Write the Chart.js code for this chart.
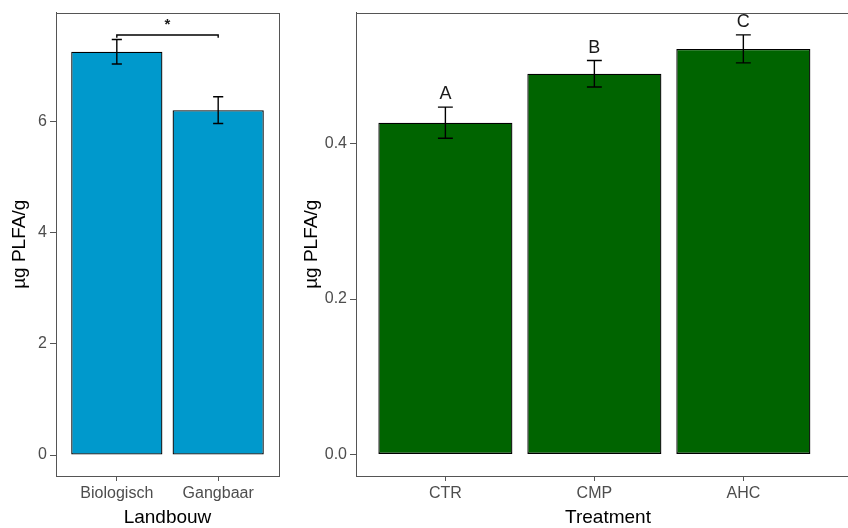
<!DOCTYPE html>
<html>
<head>
<meta charset="utf-8">
<script src="https://cdn.jsdelivr.net/npm/chart.js@4"></script>
<style>
html, body { margin: 0; padding: 0; background: #fff; overflow: hidden; width: 848px; height: 528px; }
#left { position: absolute; left: 0; top: 0; }
#right { position: absolute; left: 290px; top: 0; }
</style>
</head>
<body>
<canvas id="left" width="290" height="528"></canvas>
<canvas id="right" width="570" height="528"></canvas>
<script>
// linker paneel: Landbouw
var landbouw = ['Biologisch', 'Gangbaar'];
var landbouwMean = [7.25, 6.2];
var landbouwSe = [0.22, 0.24];
var landbouwTicks = [0, 2, 4, 6];
var bracketY = 7.55;
var bracketLabel = '*';

// rechter paneel: Treatment
var treatment = ['CTR', 'CMP', 'AHC'];
var treatmentMean = [0.427, 0.49, 0.522];
var treatmentSe = [0.02, 0.017, 0.018];
var treatmentTicks = [0, 0.2, 0.4];
var letters = ['A', 'B', 'C'];

var FONT = "'Liberation Sans', Arial, sans-serif";

// kader + foutbalken + letters/significantie
var extras = {
    id: 'extras',
    afterDatasetsDraw: function(chart, args, opts) {
        var ctx = chart.ctx, x = chart.scales.x, y = chart.scales.y;
        var a = chart.chartArea;
        ctx.save();
        ctx.strokeStyle = '#555';
        ctx.lineWidth = 1;
        ctx.strokeRect(Math.round(a.left) + 0.5, Math.round(a.top) + 0.5, a.right - a.left, Math.round(a.bottom - a.top));

        ctx.strokeStyle = '#000';
        ctx.lineWidth = 1.4;
        opts.mean.forEach(function(m, i) {
            var px = x.getPixelForValue(i);
            var hw = x.getPixelForValue(i + 0.05) - px;
            var top = y.getPixelForValue(m + opts.se[i]);
            var bot = y.getPixelForValue(m - opts.se[i]);
            ctx.beginPath();
            ctx.moveTo(px, top); ctx.lineTo(px, bot);
            ctx.moveTo(px - hw, top); ctx.lineTo(px + hw, top);
            ctx.moveTo(px - hw, bot); ctx.lineTo(px + hw, bot);
            ctx.stroke();
            if (opts.letters) {
                ctx.fillStyle = '#1a1a1a';
                ctx.font = '18px ' + FONT;
                ctx.textAlign = 'center';
                ctx.textBaseline = 'alphabetic';
                ctx.fillText(opts.letters[i], px, top - 8);
            }
        });

        if (opts.bracket) {
            var x0 = x.getPixelForValue(0), x1 = x.getPixelForValue(1);
            var by = y.getPixelForValue(opts.bracket);
            var tip = y.getPixelForValue(opts.bracket - 0.05);
            ctx.beginPath();
            ctx.moveTo(x0, tip); ctx.lineTo(x0, by); ctx.lineTo(x1, by); ctx.lineTo(x1, tip);
            ctx.stroke();
            ctx.fillStyle = '#1a1a1a';
            ctx.font = 'bold 15px ' + FONT;
            ctx.textAlign = 'center';
            ctx.textBaseline = 'alphabetic';
            ctx.fillText(opts.label, (x0 + x1) / 2, by - 6);
        }
        ctx.restore();
    }
};

function makeChart(id, cats, mean, color, yMin, yMax, yTicks, yFmt, xMax, yWidth, titlePad, xTitle, extraOpts) {
    var ctx = document.getElementById(id).getContext('2d');
    var data = {
        datasets: [{
            data: mean.map(function(m, i) { return { x: i, y: m }; }),
            backgroundColor: color,
            borderColor: '#000',
            borderWidth: 1.3,
            borderSkipped: false,
            categoryPercentage: 1,
            barPercentage: 0.9
        }]
    };
    var config = {
        type: 'bar',
        data: data,
        options: {
            responsive: false,
            animation: false,
            layout: { padding: { top: 11, right: id === 'left' ? 11 : 0, left: 0, bottom: 0 } },
            plugins: { legend: { display: false }, tooltip: { enabled: false }, extras: extraOpts },
            scales: {
                x: {
                    type: 'linear',
                    offset: false,
                    min: -0.6,
                    max: xMax,
                    afterBuildTicks: function(s) { s.ticks = cats.map(function(c, i) { return { value: i }; }); },
                    afterFit: function(s) { s.height = 52; },
                    grid: { offset: false, drawOnChartArea: false, color: '#555', tickLength: 5 },
                    border: { display: true, color: '#555' },
                    ticks: {
                        color: '#4d4d4d', padding: 3, maxRotation: 0, autoSkip: false,
                        font: { family: FONT, size: 16 },
                        callback: function(v) { return cats[v]; }
                    },
                    title: {
                        display: true, text: xTitle, color: '#000',
                        font: { family: FONT, size: 19, lineHeight: 1 },
                        padding: { top: 0, bottom: 1 }
                    }
                },
                y: {
                    min: yMin,
                    max: yMax,
                    afterBuildTicks: function(s) { s.ticks = yTicks.map(function(v) { return { value: v }; }); },
                    afterFit: function(s) { s.width = yWidth; },
                    grid: { drawOnChartArea: false, color: '#555', tickLength: 6 },
                    border: { display: true, color: '#555' },
                    ticks: {
                        color: '#4d4d4d', padding: 3,
                        font: { family: FONT, size: 16 },
                        callback: yFmt
                    },
                    title: {
                        display: true, text: 'µg PLFA/g', color: '#000',
                        font: { family: FONT, size: 19, lineHeight: 1 },
                        padding: { top: titlePad, bottom: 0 }
                    }
                }
            }
        },
        plugins: [extras]
    };
    return new Chart(ctx, config);
}

var graph1 = makeChart('left', landbouw, landbouwMean, '#0099cc', -0.376, 7.953, landbouwTicks,
    function(v) { return String(v); }, 1.6, 56, 10.5, 'Landbouw',
    { mean: landbouwMean, se: landbouwSe, bracket: bracketY, label: bracketLabel });

var graph2 = makeChart('right', treatment, treatmentMean, '#006400', -0.0278, 0.5687, treatmentTicks,
    function(v) { return v.toFixed(1); }, 2.783, 66, 12.5, 'Treatment',
    { mean: treatmentMean, se: treatmentSe, letters: letters });
</script>
</body>
</html>
